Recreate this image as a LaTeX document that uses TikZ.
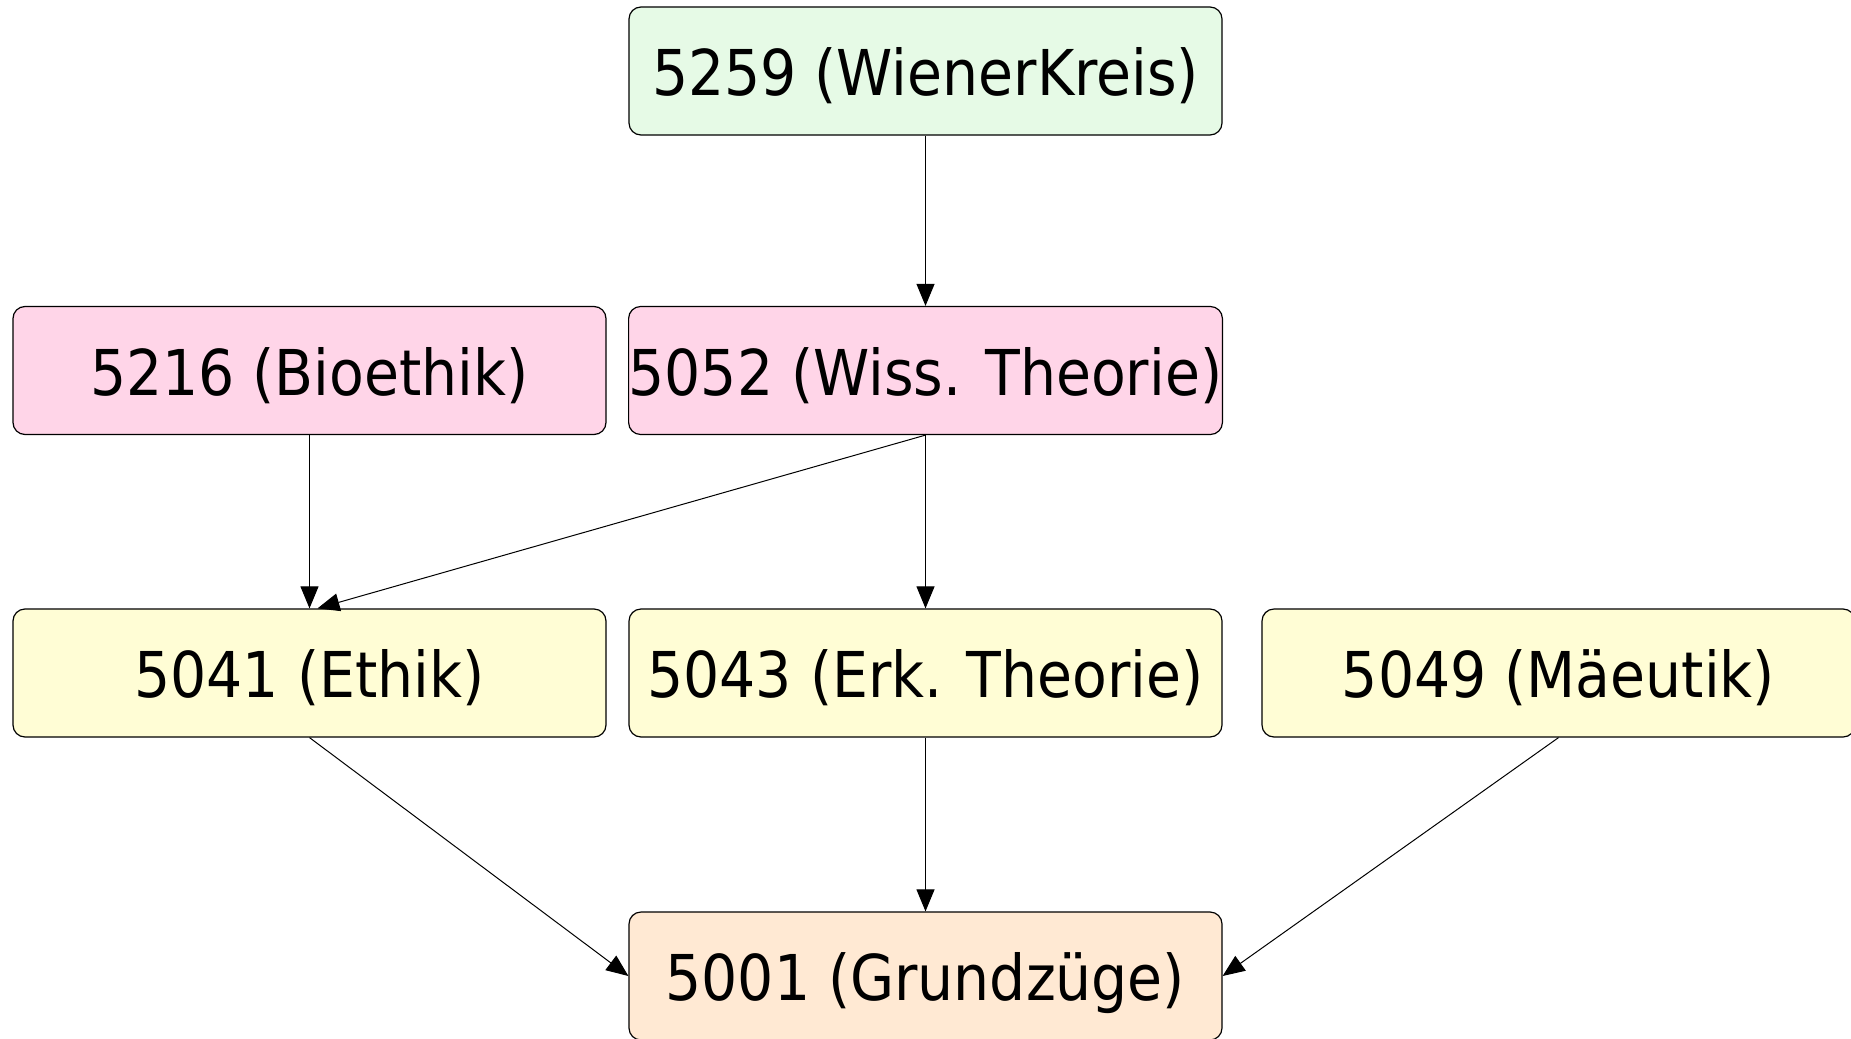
\documentclass[tikz,border=0pt]{standalone}
\usepackage{fontspec}
\setmainfont{DejaVu Sans Condensed}
\usetikzlibrary{arrows.meta}
\definecolor{cgreen}{HTML}{E6FAE6}
\definecolor{cpink}{HTML}{FFD5E8}
\definecolor{cyellow}{HTML}{FFFDD5}
\definecolor{cpeach}{HTML}{FFE9D3}
\tikzset{
  box/.style={draw=black, line width=0.6pt, rounded corners=6pt, minimum width=296.5pt, minimum height=64pt, inner sep=0pt, text height=28pt, text depth=3.2pt, font=\fontsize{31.6}{36}\selectfont},
  conn/.style={draw=black, line width=0.5pt, -{Triangle[length=11pt,width=9pt]}}
}
\begin{document}
\begin{tikzpicture}[x=0.5pt,y=-0.5pt]
\useasboundingbox (0,0) rectangle (1851,1038);
\node[box, fill=cgreen] (n5259) at (925.5,71) {5259 (WienerKreis)};
\node[box, fill=cpink] (n5216) at (309.5,370.5) {5216 (Bioethik)};
\node[box, fill=cpink] (n5052) at (925.5,370.5) {5052 (Wiss. Theorie)};
\node[box, fill=cyellow] (n5041) at (309.5,673) {5041 (Ethik)};
\node[box, fill=cyellow] (n5043) at (925.5,673) {5043 (Erk. Theorie)};
\node[box, fill=cyellow] (n5049) at (1558.5,673) {5049 (Mäeutik)};
\node[box, fill=cpeach] (n5001) at (925.5,976) {5001 (Grundzüge)};
\draw[conn] (n5259.south) -- (n5052.north);
\draw[conn] (n5216.south) -- (n5041.north);
\draw[conn] (n5052.south) -- ([xshift=4pt]n5041.north);
\draw[conn] (n5052.south) -- (n5043.north);
\draw[conn] (n5041.south) -- (n5001.west);
\draw[conn] (n5043.south) -- (n5001.north);
\draw[conn] (n5049.south) -- (n5001.east);
\end{tikzpicture}
\end{document}
